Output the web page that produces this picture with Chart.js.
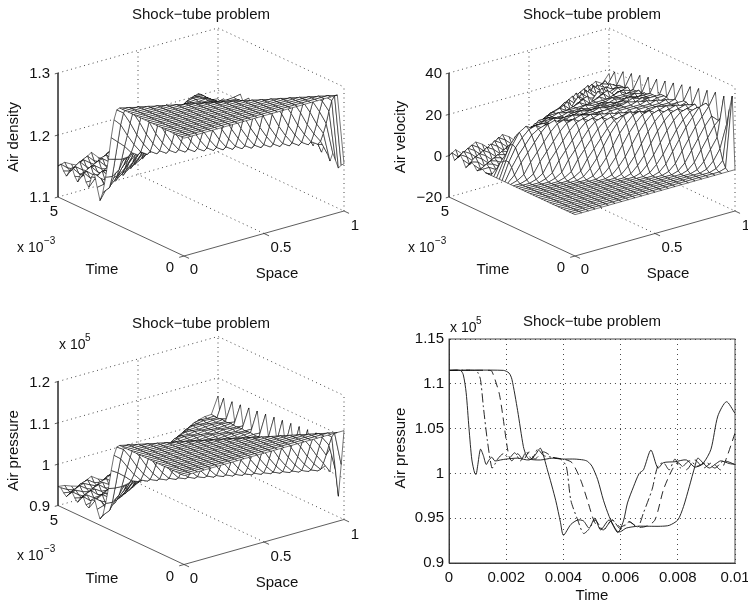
<!DOCTYPE html>
<html>
<head>
<meta charset="utf-8">
<script src="https://cdn.jsdelivr.net/npm/chart.js@4/dist/chart.umd.min.js"></script>
<style>
html,body{margin:0;padding:0;background:#fff;}
body{width:748px;height:603px;position:relative;overflow:hidden;}
canvas{position:absolute;}
</style>
</head>
<body>
<canvas id="p1" width="374" height="300" style="left:0;top:0;width:374px;height:300px"></canvas>
<canvas id="p2" width="374" height="300" style="left:374px;top:0;width:374px;height:300px"></canvas>
<canvas id="p3" width="374" height="303" style="left:0;top:300px;width:374px;height:303px"></canvas>
<canvas id="p4" width="374" height="303" style="left:374px;top:300px;width:374px;height:303px"></canvas>
<script>
// air density x 1000, one row per time step, one column per space step
const densityRows = [
[1290,1290,1290,1290,1290,1290,1290,1290,1290,1290,1290,1290,1290,1290,1290,1290,1290,1290,1290,1290,1290,1290,1290,1290,1176],
[1290,1290,1290,1290,1290,1290,1290,1290,1290,1290,1290,1290,1290,1290,1290,1290,1290,1290,1290,1290,1290,1290,1290,1287,1172],
[1290,1290,1290,1290,1290,1290,1290,1290,1290,1290,1290,1290,1290,1290,1290,1290,1290,1290,1290,1290,1290,1290,1287,1277,1165],
[1290,1290,1290,1290,1290,1290,1290,1290,1290,1290,1290,1290,1290,1290,1290,1290,1290,1290,1290,1290,1290,1287,1277,1258,1175],
[1290,1290,1290,1290,1290,1290,1290,1290,1290,1290,1290,1290,1290,1290,1290,1290,1290,1290,1290,1290,1287,1277,1258,1236,1185],
[1290,1290,1290,1290,1290,1290,1290,1290,1290,1290,1290,1290,1290,1290,1290,1290,1290,1290,1290,1287,1277,1258,1236,1218,1170],
[1290,1290,1290,1290,1290,1290,1290,1290,1290,1290,1290,1290,1290,1290,1290,1290,1290,1290,1287,1277,1258,1236,1218,1203,1180],
[1290,1290,1290,1290,1290,1290,1290,1290,1290,1290,1290,1290,1290,1290,1290,1290,1290,1287,1277,1258,1236,1218,1203,1196,1192],
[1290,1290,1290,1290,1290,1290,1290,1290,1290,1290,1290,1290,1290,1290,1290,1290,1287,1277,1258,1236,1218,1203,1196,1205,1178],
[1290,1290,1290,1290,1290,1290,1290,1290,1290,1290,1290,1290,1290,1290,1290,1287,1277,1258,1236,1218,1203,1196,1205,1217,1186],
[1290,1290,1290,1290,1290,1290,1290,1290,1290,1290,1290,1290,1290,1290,1287,1277,1258,1236,1218,1203,1196,1205,1217,1214,1198],
[1290,1290,1290,1290,1290,1290,1290,1290,1290,1290,1290,1290,1290,1287,1277,1258,1236,1218,1203,1196,1205,1217,1214,1205,1182],
[1290,1290,1290,1290,1290,1290,1290,1290,1290,1290,1290,1290,1287,1277,1258,1236,1218,1203,1196,1205,1217,1214,1205,1207,1190],
[1290,1290,1290,1290,1290,1290,1290,1290,1290,1290,1290,1287,1277,1258,1236,1218,1203,1196,1205,1217,1214,1205,1207,1211,1202],
[1290,1290,1290,1290,1290,1290,1290,1290,1290,1290,1287,1277,1258,1236,1218,1203,1196,1205,1217,1214,1205,1207,1211,1209,1186],
[1290,1290,1290,1290,1290,1290,1290,1290,1290,1287,1277,1258,1236,1218,1203,1196,1205,1217,1214,1205,1207,1211,1209,1207,1194],
[1290,1290,1290,1290,1290,1290,1290,1290,1287,1277,1258,1236,1218,1203,1196,1205,1217,1214,1205,1207,1211,1209,1207,1208,1206],
[1290,1290,1290,1290,1290,1290,1290,1287,1277,1258,1236,1218,1203,1196,1205,1217,1214,1205,1207,1211,1209,1207,1208,1210,1190],
[1290,1290,1290,1290,1290,1290,1287,1277,1258,1236,1218,1203,1196,1205,1217,1214,1205,1207,1211,1209,1207,1208,1210,1208,1198],
[1290,1290,1290,1290,1290,1287,1277,1258,1236,1218,1203,1196,1205,1217,1214,1205,1207,1211,1209,1207,1208,1210,1208,1206,1208],
[1290,1290,1290,1290,1287,1277,1258,1236,1218,1203,1196,1205,1217,1214,1205,1207,1211,1209,1207,1208,1210,1208,1206,1208,1192],
[1290,1290,1290,1287,1277,1258,1236,1218,1203,1196,1205,1217,1214,1205,1207,1211,1209,1207,1208,1210,1208,1206,1208,1209,1200],
[1290,1290,1287,1277,1258,1236,1218,1203,1196,1205,1217,1214,1205,1207,1211,1209,1207,1208,1210,1208,1206,1208,1209,1208,1210],
[1290,1287,1277,1258,1236,1218,1203,1196,1205,1217,1214,1205,1207,1211,1209,1207,1208,1210,1208,1206,1208,1209,1208,1207,1192],
[1285,1277,1258,1236,1218,1203,1196,1205,1217,1214,1205,1207,1211,1209,1207,1208,1210,1208,1206,1208,1209,1208,1207,1209,1200],
[1267,1256,1236,1218,1203,1196,1205,1217,1214,1205,1207,1211,1209,1207,1208,1210,1208,1206,1208,1209,1208,1207,1209,1208,1210],
[1236,1226,1216,1203,1196,1205,1217,1214,1205,1207,1211,1209,1207,1208,1210,1208,1206,1208,1209,1208,1207,1209,1208,1207,1192],
[1199,1196,1193,1194,1205,1217,1214,1205,1207,1211,1209,1207,1208,1210,1208,1206,1208,1209,1208,1207,1209,1208,1207,1209,1200],
[1168,1166,1174,1195,1215,1214,1205,1207,1211,1209,1207,1208,1210,1208,1206,1208,1209,1208,1207,1209,1208,1207,1209,1208,1210],
[1141,1146,1168,1195,1204,1203,1207,1211,1209,1207,1208,1210,1208,1206,1208,1209,1208,1207,1209,1208,1207,1209,1208,1207,1192],
[1126,1143,1167,1177,1183,1197,1209,1209,1207,1208,1210,1208,1206,1208,1209,1208,1207,1209,1208,1207,1209,1208,1207,1208,1200],
[1145,1147,1152,1155,1170,1189,1199,1205,1208,1210,1208,1206,1208,1209,1208,1207,1209,1208,1207,1209,1208,1207,1208,1209,1210],
[1165,1154,1135,1145,1161,1172,1185,1198,1208,1208,1206,1208,1209,1208,1207,1209,1208,1207,1208,1209,1208,1207,1209,1208,1192],
[1158,1153,1147,1141,1147,1157,1171,1188,1198,1204,1208,1209,1208,1207,1209,1208,1207,1208,1209,1208,1207,1209,1208,1207,1200],
[1139,1151,1159,1149,1137,1146,1160,1171,1184,1198,1207,1208,1207,1209,1208,1207,1208,1209,1208,1207,1209,1208,1207,1208,1210],
[1145,1145,1153,1155,1148,1140,1146,1156,1171,1187,1198,1205,1209,1208,1207,1209,1208,1207,1208,1209,1208,1207,1209,1208,1192],
[1159,1147,1141,1152,1158,1148,1136,1146,1159,1171,1185,1199,1206,1207,1209,1208,1207,1208,1209,1208,1207,1209,1208,1207,1200],
[1153,1155,1146,1144,1152,1154,1148,1139,1146,1157,1172,1186,1197,1207,1208,1207,1208,1209,1208,1207,1209,1208,1207,1208,1210],
[1139,1152,1158,1146,1140,1152,1157,1148,1137,1147,1158,1170,1187,1198,1205,1208,1209,1208,1207,1209,1208,1205,1198,1192,1180],
[1146,1142,1152,1154,1146,1143,1152,1155,1149,1138,1145,1159,1171,1185,1198,1207,1208,1207,1209,1208,1207,1205,1198,1190,1186],
[1158,1146,1138,1152,1157,1146,1141,1153,1156,1147,1139,1146,1157,1171,1187,1198,1205,1209,1208,1207,1208,1204,1197,1190,1190],
[1150,1154,1146,1141,1152,1155,1147,1142,1151,1157,1148,1137,1146,1159,1171,1185,1199,1206,1207,1208,1207,1204,1196,1188,1180],
[1140,1150,1157,1146,1139,1153,1156,1145,1143,1152,1155,1148,1139,1146,1157,1172,1186,1197,1206,1208,1207,1203,1196,1188,1186],
[1146,1143,1150,1155,1147,1140,1151,1157,1146,1141,1152,1157,1148,1137,1147,1158,1170,1186,1199,1206,1206,1204,1195,1187,1190],
[1155,1146,1141,1151,1156,1145,1141,1152,1155,1146,1143,1152,1155,1149,1138,1145,1158,1172,1186,1197,1205,1204,1195,1187,1180],
[1150,1153,1147,1142,1149,1157,1146,1139,1152,1157,1146,1141,1153,1156,1147,1138,1147,1158,1170,1187,1198,1203,1195,1187,1186]
];
// air velocity, same grid
const velocityRows = [
[0,0,0,0,0,0,0,0,0,0,0,0,0,0,0,0,0,0,0,0,0,0,0,0,0],
[0,0,0,0,0,0,0,0,0,0,0,0,0,0,0,0,0,0,0,0,0,0,0,1,35],
[0,0,0,0,0,0,0,0,0,0,0,0,0,0,0,0,0,0,0,0,0,0,1,4,28],
[0,0,0,0,0,0,0,0,0,0,0,0,0,0,0,0,0,0,0,0,0,1,4,9,20],
[0,0,0,0,0,0,0,0,0,0,0,0,0,0,0,0,0,0,0,0,1,4,9,14,33],
[0,0,0,0,0,0,0,0,0,0,0,0,0,0,0,0,0,0,0,1,4,9,14,19,22],
[0,0,0,0,0,0,0,0,0,0,0,0,0,0,0,0,0,0,1,4,9,14,19,23,20],
[0,0,0,0,0,0,0,0,0,0,0,0,0,0,0,0,0,1,4,9,14,19,23,27,33],
[0,0,0,0,0,0,0,0,0,0,0,0,0,0,0,0,1,4,9,14,19,23,27,28,22],
[0,0,0,0,0,0,0,0,0,0,0,0,0,0,0,1,4,8,13,18,22,25,26,24,20],
[0,0,0,0,0,0,0,0,0,0,0,0,0,0,1,4,8,13,18,22,25,26,24,23,32],
[0,0,0,0,0,0,0,0,0,0,0,0,0,1,4,8,13,18,22,25,26,24,23,24,21],
[0,0,0,0,0,0,0,0,0,0,0,0,1,4,8,13,18,22,25,26,24,23,24,25,19],
[0,0,0,0,0,0,0,0,0,0,0,1,4,8,13,18,22,25,26,24,23,24,25,24,31],
[0,0,0,0,0,0,0,0,0,0,1,4,8,13,18,22,25,26,24,23,24,25,24,23,21],
[0,0,0,0,0,0,0,0,0,1,4,8,13,18,22,25,26,24,23,24,25,24,23,24,18],
[0,0,0,0,0,0,0,0,1,4,8,13,18,22,25,26,24,23,24,25,24,23,24,24,30],
[0,0,0,0,0,0,0,1,3,8,12,16,20,23,24,22,21,22,23,22,21,22,22,22,20],
[0,0,0,0,0,0,1,3,8,12,16,20,23,24,22,21,22,23,22,21,22,22,22,22,17],
[0,0,0,0,0,1,3,8,12,16,20,23,24,22,21,22,23,22,21,22,22,22,22,23,29],
[0,0,0,0,1,3,8,12,16,20,23,24,22,21,22,23,22,21,22,22,22,22,23,22,19],
[0,0,0,1,3,8,12,16,20,23,24,22,21,22,23,22,21,22,22,22,22,23,22,21,16],
[0,0,1,3,8,12,16,20,23,24,22,21,22,23,22,21,22,22,22,22,23,22,21,22,28],
[0,1,3,8,12,16,20,23,24,22,21,22,23,22,21,22,22,22,22,23,22,21,22,22,18],
[0,3,8,12,16,20,23,24,22,21,22,23,22,21,22,22,22,22,23,22,21,22,22,22,15],
[0,6,11,15,19,21,22,20,19,20,21,20,20,20,21,20,20,21,20,20,20,21,20,20,27],
[0,8,14,18,21,22,20,19,20,20,20,20,21,20,20,20,20,21,20,20,20,21,20,20,17],
[0,8,15,20,22,20,19,20,20,20,20,21,20,20,20,21,20,20,20,20,21,20,20,20,14],
[0,7,14,18,19,19,20,20,19,19,20,20,20,19,20,20,20,19,20,20,19,20,20,20,26],
[0,6,10,12,15,18,19,19,19,20,19,19,19,20,19,19,20,19,19,19,20,19,19,19,16],
[0,3,5,8,12,16,18,18,19,19,19,18,19,19,19,18,19,19,19,18,19,19,18,19,13],
[0,-1,1,5,9,12,15,18,18,19,18,18,19,18,19,18,18,19,18,19,18,18,19,18,25],
[0,-2,-1,2,5,8,12,15,18,18,18,19,18,18,18,19,18,18,18,19,18,18,18,19,15],
[1,1,-1,-1,1,4,8,12,15,17,18,18,18,18,18,18,18,18,18,18,18,18,18,18,12],
[0,2,1,-1,-1,1,4,8,12,15,17,18,19,17,18,19,17,18,19,17,18,19,17,18,24],
[-1,0,2,1,-1,-1,1,4,8,12,15,17,17,19,16,18,19,16,18,19,16,18,18,17,14],
[1,-2,0,2,1,-1,-1,1,4,8,11,15,16,17,19,15,18,19,15,18,19,16,17,18,12],
[2,1,-2,0,2,1,-1,-1,1,4,8,11,15,16,18,15,19,17,15,19,17,16,18,17,23],
[0,3,1,-2,0,2,1,-1,-1,1,4,8,11,14,16,18,15,19,16,15,19,16,17,17,13],
[-2,0,3,1,-2,0,2,1,-1,-1,1,4,7,11,14,16,18,14,19,16,14,18,16,17,11],
[1,-2,0,3,1,-2,0,2,1,-1,-1,1,4,7,11,14,15,18,14,18,15,14,18,16,22],
[3,1,-2,0,3,1,-2,0,2,1,-1,-1,1,4,7,10,14,15,17,13,18,15,14,16,12],
[1,3,1,-2,0,3,1,-2,0,2,1,-1,-1,1,4,7,10,13,15,17,13,17,15,14,11],
[-1,1,3,1,-2,0,3,1,-2,0,2,1,-1,-1,1,4,7,10,13,15,17,13,16,15,20],
[2,-1,1,3,1,-2,0,3,1,-2,0,2,1,-1,-1,1,4,7,10,13,14,16,13,16,11],
[0,2,-1,1,3,1,-2,0,3,1,-2,0,2,1,-1,-1,1,4,7,10,13,14,16,14,18]
];
// air pressure x 1000 (axis is x 10^5, so 1115 means 1.115), same grid
const pressureRows = [
[1115,1115,1115,1115,1115,1115,1115,1115,1115,1115,1115,1115,1115,1115,1115,1115,1115,1115,1115,1115,1115,1115,1115,1115,1115],
[1115,1115,1115,1115,1115,1115,1115,1115,1115,1115,1115,1115,1115,1115,1115,1115,1115,1115,1115,1115,1115,1115,1115,1111,1030],
[1115,1115,1115,1115,1115,1115,1115,1115,1115,1115,1115,1115,1115,1115,1115,1115,1115,1115,1115,1115,1115,1115,1111,1098,950],
[1115,1115,1115,1115,1115,1115,1115,1115,1115,1115,1115,1115,1115,1115,1115,1115,1115,1115,1115,1115,1115,1111,1098,1075,1010],
[1115,1115,1115,1115,1115,1115,1115,1115,1115,1115,1115,1115,1115,1115,1115,1115,1115,1115,1115,1115,1111,1098,1075,1048,1070],
[1115,1115,1115,1115,1115,1115,1115,1115,1115,1115,1115,1115,1115,1115,1115,1115,1115,1115,1115,1111,1098,1075,1048,1025,1000],
[1115,1115,1115,1115,1115,1115,1115,1115,1115,1115,1115,1115,1115,1115,1115,1115,1115,1115,1111,1098,1075,1048,1025,1007,1015],
[1115,1115,1115,1115,1115,1115,1115,1115,1115,1115,1115,1115,1115,1115,1115,1115,1115,1111,1098,1075,1048,1025,1007,1000,1076],
[1115,1115,1115,1115,1115,1115,1115,1115,1115,1115,1115,1115,1115,1115,1115,1115,1111,1098,1075,1048,1025,1007,1000,1010,1005],
[1115,1115,1115,1115,1115,1115,1115,1115,1115,1115,1115,1115,1115,1115,1115,1111,1098,1075,1048,1025,1007,1000,1010,1025,1020],
[1115,1115,1115,1115,1115,1115,1115,1115,1115,1115,1115,1115,1115,1115,1111,1098,1075,1048,1025,1007,1000,1010,1025,1022,1078],
[1115,1115,1115,1115,1115,1115,1115,1115,1115,1115,1115,1115,1115,1111,1098,1075,1048,1025,1007,1000,1010,1025,1022,1011,1008],
[1115,1115,1115,1115,1115,1115,1115,1115,1115,1115,1115,1115,1111,1098,1075,1048,1025,1007,1000,1010,1025,1022,1011,1013,1022],
[1115,1115,1115,1115,1115,1115,1115,1115,1115,1115,1115,1111,1098,1075,1048,1025,1007,1000,1010,1025,1022,1011,1013,1018,1076],
[1115,1115,1115,1115,1115,1115,1115,1115,1115,1115,1111,1098,1075,1048,1025,1007,1000,1010,1025,1022,1011,1013,1018,1016,1006],
[1115,1115,1115,1115,1115,1115,1115,1115,1115,1111,1098,1075,1048,1025,1007,1000,1010,1025,1022,1011,1013,1018,1016,1014,1020],
[1115,1115,1115,1115,1115,1115,1115,1115,1111,1098,1075,1048,1025,1007,1000,1010,1025,1022,1011,1013,1018,1016,1014,1015,1074],
[1115,1115,1115,1115,1115,1115,1115,1111,1098,1075,1048,1025,1007,1000,1010,1025,1022,1011,1013,1018,1016,1014,1015,1017,1005],
[1115,1115,1115,1115,1115,1115,1111,1098,1075,1048,1025,1007,1000,1010,1025,1022,1011,1013,1018,1016,1014,1015,1017,1015,1018],
[1115,1115,1115,1115,1115,1111,1098,1075,1048,1025,1007,1000,1010,1025,1022,1011,1013,1018,1016,1014,1015,1017,1015,1013,1072],
[1115,1115,1115,1115,1111,1098,1075,1048,1025,1007,1000,1010,1025,1022,1011,1013,1018,1016,1014,1015,1017,1015,1013,1015,1004],
[1115,1115,1115,1111,1098,1075,1048,1025,1007,1000,1010,1025,1022,1011,1013,1018,1016,1014,1015,1017,1015,1013,1015,1016,1018],
[1115,1115,1111,1098,1075,1048,1025,1007,1000,1010,1025,1022,1011,1013,1018,1016,1014,1015,1017,1015,1013,1015,1016,1015,1070],
[1115,1111,1098,1075,1048,1025,1007,1000,1010,1025,1022,1011,1013,1018,1016,1014,1015,1017,1015,1013,1015,1016,1015,1014,1004],
[1108,1098,1075,1048,1025,1007,1000,1010,1025,1022,1011,1013,1018,1016,1014,1015,1017,1015,1013,1015,1016,1015,1014,1016,1016],
[1085,1072,1048,1025,1007,1000,1010,1025,1022,1011,1013,1018,1016,1014,1015,1017,1015,1013,1015,1016,1015,1014,1016,1015,1068],
[1045,1035,1022,1007,1000,1010,1025,1022,1011,1013,1018,1016,1014,1015,1017,1015,1013,1015,1016,1015,1014,1016,1015,1014,1003],
[998,995,994,997,1010,1025,1022,1011,1013,1018,1016,1014,1015,1017,1015,1013,1015,1016,1015,1014,1016,1015,1014,1016,1015],
[959,957,970,997,1022,1022,1011,1013,1018,1016,1014,1015,1017,1015,1013,1015,1016,1015,1014,1016,1015,1014,1016,1015,1066],
[927,934,960,995,1009,1008,1013,1018,1016,1014,1015,1017,1015,1013,1015,1016,1015,1014,1016,1015,1014,1016,1015,1014,1003],
[915,930,959,972,981,1000,1015,1016,1014,1015,1017,1015,1013,1015,1016,1015,1014,1016,1015,1014,1016,1015,1014,1015,1014],
[935,940,942,945,963,988,1003,1011,1015,1017,1015,1013,1015,1016,1015,1014,1016,1015,1014,1016,1015,1014,1015,1016,1064],
[959,947,926,933,952,966,984,1002,1014,1015,1013,1015,1016,1015,1014,1016,1015,1014,1016,1015,1014,1015,1016,1015,1002],
[952,945,938,933,936,948,965,987,1002,1010,1015,1016,1015,1014,1016,1015,1014,1016,1015,1014,1015,1016,1015,1014,1014],
[929,943,952,941,929,935,951,965,983,1002,1013,1015,1014,1016,1015,1014,1016,1015,1014,1015,1016,1015,1014,1016,1062],
[933,936,946,948,940,932,935,947,965,986,1002,1011,1016,1015,1014,1016,1015,1014,1015,1016,1015,1014,1016,1015,1002],
[950,936,932,945,951,940,928,935,950,965,984,1003,1012,1014,1016,1015,1014,1015,1016,1015,1014,1016,1015,1014,1012],
[944,946,935,935,945,947,940,931,935,948,966,985,1001,1013,1015,1014,1015,1016,1015,1014,1016,1015,1014,1015,1060],
[930,943,949,935,931,945,950,940,929,936,949,964,986,1002,1011,1015,1016,1015,1014,1016,1015,1014,1015,1016,1002],
[937,933,943,945,935,934,945,948,941,930,934,950,965,984,1002,1013,1015,1014,1016,1015,1014,1015,1016,1015,1012],
[949,937,929,943,948,935,932,946,949,939,931,935,948,965,986,1002,1011,1016,1015,1014,1015,1016,1015,1014,1058],
[941,945,937,932,943,946,936,933,944,950,940,929,935,950,965,984,1003,1012,1014,1015,1016,1015,1014,1016,1000],
[931,941,948,937,930,944,947,934,934,945,948,940,931,935,948,966,985,1001,1012,1016,1015,1014,1016,1015,1010],
[937,934,941,946,938,931,942,948,935,932,945,950,940,929,936,949,964,985,1003,1012,1014,1016,1015,1014,1057],
[946,937,932,942,947,936,932,943,946,935,934,945,948,941,930,934,949,966,985,1001,1013,1015,1014,1015,1000],
[946,944,938,933,940,948,937,930,943,948,935,932,946,949,939,930,936,949,964,986,1002,1011,1015,1016,1056]
];

const densityTicks = [1.1, 1.2, 1.3];
const velocityTicks = [-20, 0, 20, 40];
const pressureMeshTicks = [0.9, 1, 1.1, 1.2];
const spaceTicks = [0, 0.5, 1];

// pressure against time at four stations
const timeA = [0,.0004,.0005,.0006,.0007,.0008,.0009,.00095,.001,.0011,.0012,.0013,.0014,.0015,.0016,.0018,.002,.0024,.0028,.003,.0032,.00344,.00373,.0039,.004,.00426,.0045,.0047,.0049,.0051,.0053,.0056,.0059,.0061,.00624,.00645,.00665,.0068,.00706,.0073,.0075,.0079,.0083,.0086,.0089,.00916,.0094,.0097,.01];
const airA = [1.115,1.115,1.11,1.09,1.05,1.015,1,.999,1.008,1.027,1.02,1.01,1.015,1.018,1.014,1.015,1.016,1.017,1.015,1.02,1.028,1.004,.97,.945,.931,.943,.948,.947,.939,.95,.937,.948,.934,.947,.967,.985,1,1.004,1.026,1.006,1.012,1.013,1.015,1.007,1.012,1.027,1.064,1.08,1.067];
const timeB = [0,.0009,.001,.0011,.0012,.00134,.0015,.0016,.0017,.0019,.0021,.0023,.0025,.0027,.0029,.0031,.0033,.0036,.0039,.0041,.00426,.0045,.0047,.0049,.0051,.0054,.0057,.006,.0063,.0066,.0068,.0071,.0073,.0075,.0077,.0079,.0081,.0084,.0087,.009,.0093,.0096,.01];
const airB = [1.115,1.115,1.113,1.105,1.075,1.037,1.006,1.01,1.016,1.022,1.017,1.023,1.014,1.024,1.016,1.027,1.02,1.018,1.016,1.008,.97,.948,.933,.938,.948,.937,.948,.938,.946,.94,.956,.982,1.008,1.012,1.004,1.016,1.006,1.014,1.008,1.012,1.006,1.014,1.01];
const timeC = [0,.0014,.0015,.00175,.00187,.002,.0021,.0022,.0024,.0026,.0028,.003,.0033,.0037,.004,.0043,.0046,.00484,.0051,.0054,.0057,.006,.0063,.0066,.0069,.0072,.0075,.0078,.008,.0083,.0086,.0089,.0092,.0095,.0097,.01];
const airC = [1.115,1.115,1.114,1.09,1.067,1.037,1.019,1.014,1.022,1.015,1.024,1.016,1.024,1.017,1.016,1.012,.993,.97,.945,.937,.948,.94,.946,.94,.941,.948,.982,1.004,1.012,1.004,1.015,1.006,1.012,1.004,1.017,1.045];
const timeD = [0,.0019,.0021,.0022,.0024,.0026,.0027,.0028,.0032,.0036,.004,.0044,.0047,.00484,.005,.0052,.0054,.0056,.0058,.0059,.006,.0062,.0066,.007,.0074,.0077,.008,.0082,.0084,.0086,.0087,.0089,.0091,.0093,.0095,.0098,.01];
const airD = [1.115,1.115,1.112,1.105,1.07,1.03,1.02,1.016,1.015,1.017,1.016,1.016,1.015,1.0135,1.008,.993,.97,.952,.939,.935,.935,.939,.941,.941,.941,.942,.948,.963,.985,1.008,1.017,1.011,1.006,1.01,1.014,1.011,1.01];
const stationTicks = [0, .002, .004, .006, .008, .01];
const airTicks = [.9, .95, 1, 1.05, 1.1, 1.15];

const FONT = '"Liberation Sans", Arial, sans-serif';
const INK = '#111';

// mesh panel: corners of the box on screen
const project = (ox, oy, zMin, zMax) => (s, tau, z) => ({
    x: ox + 184 + 160 * s - 126 * tau,
    y: oy + 256 - 45 * s - 59 * tau - 124 * (z - zMin) / (zMax - zMin)
});

const lineSet = (points, extra) => Object.assign({
    data: points, showLine: true, pointRadius: 0, borderColor: '#222', borderWidth: 0.8,
    fill: false, clip: false, tension: 0
}, extra);

const textPlugin = (labels) => ({
    id: 'panelText',
    afterDraw(chart) {
        const ctx = chart.ctx;
        ctx.save();
        ctx.fillStyle = INK;
        ctx.textBaseline = 'middle';
        labels.forEach(l => {
            ctx.save();
            ctx.font = (l.size || 15) + 'px ' + FONT;
            ctx.textAlign = l.align || 'center';
            ctx.translate(l.x, l.y + (l.rot ? 0 : 1));
            if (l.rot) ctx.rotate(l.rot);
            ctx.fillText(l.text, 0, 0);
            ctx.restore();
        });
        ctx.restore();
    }
});

function meshChart(id, rows, scale, zMin, zMax, zTicks, ox, oy, labels) {
    const pt = project(ox, oy, zMin, zMax);
    const zv = (row, col) => rows[row][col] * scale;
    const nT = rows.length - 1, nS = rows[0].length - 1;
    const datasets = [];
    const dotted = { borderDash: [1, 3.5], borderColor: '#333', borderWidth: 0.9 };

    // back walls and floor
    zTicks.forEach(z => {
        datasets.push(lineSet([pt(0, 1, z), pt(1, 1, z), pt(1, 0, z)], dotted));
    });
    spaceTicks.slice(1).forEach(s => {
        datasets.push(lineSet([pt(s, 1, zMin), pt(s, 1, zMax)], dotted));
    });
    datasets.push(lineSet([pt(1, 0, zMin), pt(1, 0, zMax)], dotted));
    datasets.push(lineSet([pt(0.5, 0, zMin), pt(0.5, 1, zMin)], dotted));

    // solid axes with small ticks
    datasets.push(lineSet([pt(0, 1, zMax), pt(0, 1, zMin), pt(0, 0, zMin), pt(1, 0, zMin)], { borderColor: '#333' }));
    zTicks.forEach(z => datasets.push(lineSet([pt(0, 1, z), pt(-0.02, 1, z)], { borderColor: '#333' })));
    spaceTicks.forEach(s => datasets.push(lineSet([pt(s, 0, zMin), pt(s, -0.04, zMin)], { borderColor: '#333' })));
    datasets.push(lineSet([pt(0, 0, zMin), pt(-0.03, 0, zMin)], { borderColor: '#333' }));

    // cells far to near, each one white so it hides what is behind
    for (let j = nT - 1; j >= 0; j--) {
        for (let i = nS - 1; i >= 0; i--) {
            const a = pt(i / nS, j / nT, zv(j, i));
            const b = pt((i + 1) / nS, j / nT, zv(j, i + 1));
            const c = pt((i + 1) / nS, (j + 1) / nT, zv(j + 1, i + 1));
            const d = pt(i / nS, (j + 1) / nT, zv(j + 1, i));
            datasets.push(lineSet([a, b, c, d, a], {
                borderColor: '#000', borderWidth: 0.55, fill: 'shape', backgroundColor: '#fff'
            }));
        }
    }
    // Chart.js paints the first dataset last
    datasets.reverse();

    const canvas = document.getElementById(id);
    return new Chart(canvas, {
        type: 'scatter',
        data: { datasets },
        options: {
            responsive: false, animation: false, events: [],
            layout: { padding: 0, autoPadding: false },
            plugins: { legend: { display: false }, tooltip: { enabled: false } },
            scales: {
                x: { type: 'linear', display: false, min: 0, max: canvas.width },
                y: { type: 'linear', display: false, min: 0, max: canvas.height, reverse: true }
            }
        },
        plugins: [textPlugin(labels)]
    });
}

function meshLabels(ox, oy, yName, yNameX, zLabels, zRight) {
    const out = [
        { text: 'Shock\u2212tube problem', x: ox + 201, y: oy + 14 },
        { text: yName, x: yNameX, y: oy + 137 + (oy ? 5 : 0), rot: -Math.PI / 2 },
        { text: '5', x: ox + 54, y: oy + 211 },
        { text: 'x 10', x: ox + 17, y: oy + 247, align: 'left', size: 14 },
        { text: '\u22123', x: ox + 44, y: oy + 240, align: 'left', size: 10 },
        { text: 'Time', x: ox + 102, y: oy + 269 },
        { text: '0', x: ox + 170, y: oy + 267 },
        { text: '0', x: ox + 194, y: oy + 269 },
        { text: '0.5', x: ox + 281, y: oy + 247 },
        { text: '1', x: ox + 355, y: oy + 225 },
        { text: 'Space', x: ox + 277, y: oy + 273 }
    ];
    zLabels.forEach(l => out.push({ text: l.text, x: zRight, y: oy + l.y, align: 'right' }));
    return out;
}

meshChart('p1', densityRows, 0.001, 1.1, 1.3, densityTicks, 0, 0,
    meshLabels(0, 0, 'Air density', 14, [
        { text: '1.3', y: 73 }, { text: '1.2', y: 136 }, { text: '1.1', y: 197 }
    ], 50));

meshChart('p2', velocityRows, 1, -20, 40, velocityTicks, 17, 0,
    meshLabels(17, 0, 'Air velocity', 27, [
        { text: '40', y: 73 }, { text: '20', y: 115 }, { text: '0', y: 156 }, { text: '\u221220', y: 197 }
    ], 68));

meshChart('p3', pressureRows, 0.001, 0.9, 1.2, pressureMeshTicks, 0, 8.5,
    meshLabels(0, 8.5, 'Air pressure', 14, [
        { text: '1.2', y: 73 }, { text: '1.1', y: 115 }, { text: '1', y: 156 }, { text: '0.9', y: 197 }
    ], 50).concat([
        { text: 'x 10', x: 59, y: 44, align: 'left', size: 14 },
        { text: '5', x: 85, y: 37, align: 'left', size: 10 }
    ]));

// last panel is a plain 2D line chart
const xy = (t, v) => t.map((x, k) => ({ x, y: v[k] }));
const curve = (t, v, dash) => ({
    data: xy(t, v), showLine: true, pointRadius: 0, borderColor: '#111', borderWidth: 0.9,
    borderDash: dash, tension: 0.25, fill: false
});

new Chart(document.getElementById('p4'), {
    type: 'scatter',
    data: {
        datasets: [
            curve(timeA, airA, []),
            curve(timeB, airB, [9, 3, 2, 3]),
            curve(timeC, airC, [8, 5]),
            curve(timeD, airD, [])
        ]
    },
    options: {
        responsive: false, animation: false, events: [],
        layout: { padding: { left: 0, right: 13, top: 39, bottom: 0 }, autoPadding: false },
        plugins: { legend: { display: false }, tooltip: { enabled: false } },
        scales: {
            x: {
                type: 'linear', min: 0, max: 0.01,
                afterBuildTicks: ax => { ax.ticks = stationTicks.map(value => ({ value })); },
                afterFit: ax => { ax.height = 40; ax.paddingLeft = 0; ax.paddingRight = 0; },
                grid: { color: '#333', lineWidth: 0.9, drawTicks: false, display: true },
                border: { display: true, color: '#333', width: 0.9, dash: [1, 4] },
                ticks: {
                    color: INK, font: { family: FONT, size: 15 }, padding: 6, maxRotation: 0, autoSkip: false,
                    callback: v => String(+v.toFixed(3))
                }
            },
            y: {
                type: 'linear', min: 0.9, max: 1.15,
                afterBuildTicks: ax => { ax.ticks = airTicks.map(value => ({ value })); },
                afterFit: ax => { ax.width = 75; ax.paddingTop = 0; ax.paddingBottom = 0; },
                grid: { color: '#333', lineWidth: 0.9, drawTicks: false },
                border: { display: true, color: '#333', width: 0.9, dash: [1, 4] },
                ticks: {
                    color: INK, font: { family: FONT, size: 15 }, padding: 5, autoSkip: false,
                    callback: v => String(+v.toFixed(2))
                }
            }
        }
    },
    plugins: [
        textPlugin([
            { text: 'Shock\u2212tube problem', x: 218, y: 21 },
            { text: 'Air pressure', x: 27, y: 148, rot: -Math.PI / 2 },
            { text: 'Time', x: 218, y: 295 },
            { text: 'x 10', x: 76, y: 27, align: 'left', size: 14 },
            { text: '5', x: 102, y: 20, align: 'left', size: 10 }
        ]),
        {
            id: 'boxFrame',
            afterDraw(chart) {
                const a = chart.chartArea, ctx = chart.ctx;
                ctx.save();
                ctx.strokeStyle = '#333';
                ctx.lineWidth = 0.9;
                ctx.strokeRect(a.left, a.top, a.right - a.left, a.bottom - a.top);
                ctx.restore();
            }
        }
    ]
});
</script>
</body>
</html>
